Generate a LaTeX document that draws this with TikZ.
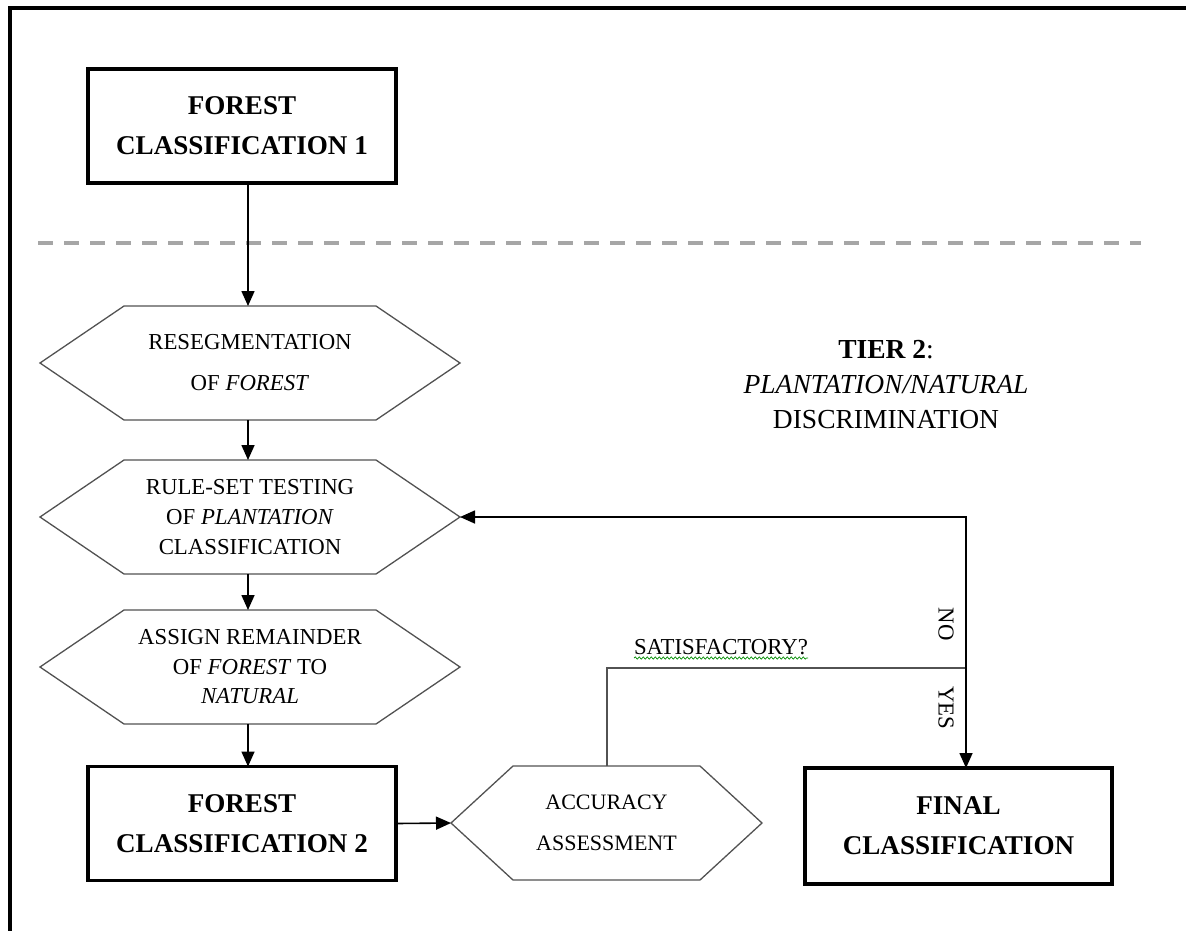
\documentclass[tikz,border=0pt]{standalone}
\usepackage{fontspec}
\setmainfont{Liberation Serif}
\usetikzlibrary{arrows.meta,decorations.pathmorphing}
\tikzset{
  boxnode/.style={draw=black, line width=3.5pt, minimum width=308pt, minimum height=114pt, inner sep=0pt, outer sep=0pt, align=center, font=\fontsize{27.1}{40}\selectfont\bfseries},
  hexnode/.style={inner sep=0pt, outer sep=0pt, align=center},
  hexline/.style={draw=black!68, line width=1.3pt, line join=miter},
  arr/.style={draw=black, line width=1.6pt, -{Triangle[length=15pt,width=13pt]}},
  plainline/.style={draw=black!68, line width=1.3pt},
  lbl/.style={inner sep=0pt, font=\fontsize{22.8}{26}\selectfont}
}
\newcommand{\hexdraw}[2]{%
  \draw[hexline] (#1.west) -- ([xshift=#2]#1.north west) -- ([xshift=-#2]#1.north east) -- (#1.east) -- ([xshift=-#2]#1.south east) -- ([xshift=#2]#1.south west) -- cycle;}
\begin{document}
\begin{tikzpicture}[x=1pt,y=-1pt]
\useasboundingbox (0,0) rectangle (1186,930);
\clip (0,0) rectangle (1186,930);
% frame
\draw[line width=3.5pt] (10,960) -- (10,8) -- (1220,8);
% dashed tier divider
\draw[black!35, line width=4pt, dash pattern=on 15pt off 11pt] (38,243) -- (1141,243);

% boxes
\node[boxnode] (fc1) at (242,126) {FOREST\\CLASSIFICATION 1};
\node[boxnode] (fc2) at (242,823.5) {FOREST\\CLASSIFICATION 2};
\node[boxnode, minimum width=307pt, minimum height=116pt] (fin) at (958.5,826) {FINAL\\CLASSIFICATION};

% hexagons
\node[hexnode, minimum width=420pt, minimum height=114pt, font=\fontsize{22.8}{41}\selectfont] (h1) at (250,363) {RESEGMENTATION\\OF \textit{FOREST}};
\hexdraw{h1}{84pt}
\node[hexnode, minimum width=420pt, minimum height=114pt, font=\fontsize{22.8}{30}\selectfont] (h2) at (250,517) {RULE-SET TESTING\\OF \textit{PLANTATION}\\CLASSIFICATION};
\hexdraw{h2}{84pt}
\node[hexnode, minimum width=420pt, minimum height=114pt, font=\fontsize{22.8}{29.5}\selectfont] (h3) at (250,667) {ASSIGN REMAINDER\\OF \textit{FOREST} TO\\\textit{NATURAL}};
\hexdraw{h3}{84pt}
\node[hexnode, minimum width=311pt, minimum height=114pt, font=\fontsize{22}{41}\selectfont] (h4) at (606.5,823) {ACCURACY\\ASSESSMENT};
\hexdraw{h4}{62pt}

% tier label
\node[align=center, inner sep=0pt, font=\fontsize{27.5}{35}\selectfont] (tier) at (886,385) {\textbf{TIER 2}:\\\textit{PLANTATION/NATURAL}\\DISCRIMINATION};

% connectors
\draw[arr] (fc1.south -| 248,0) -- (h1.north -| 248,0);
\draw[arr] (h1.south -| 248,0) -- (h2.north -| 248,0);
\draw[arr] (h2.south -| 248,0) -- (h3.north -| 248,0);
\draw[arr] (h3.south -| 248,0) -- (fc2.north -| 248,0);
\draw[arr] (fc2.east) -- (h4.west);

\coordinate (j) at (966,668);
\draw[plainline] (h4.north -| 607,0) |- (j);
\draw[arr] (j) -- (j |- fin.north);
\draw[arr] (j) |- (h2.east);

% labels
\node[lbl] (sat) at (721,647) {SATISFACTORY?};
\draw[green!55!black, line width=0.7pt, decorate, decoration={snake, amplitude=1.1pt, segment length=4pt}] (634,658) -- (808,658);
\node[lbl, rotate=-90] (no) at (946,624) {NO};
\node[lbl, rotate=-90] (yes) at (946,708) {YES};
\end{tikzpicture}
\end{document}
